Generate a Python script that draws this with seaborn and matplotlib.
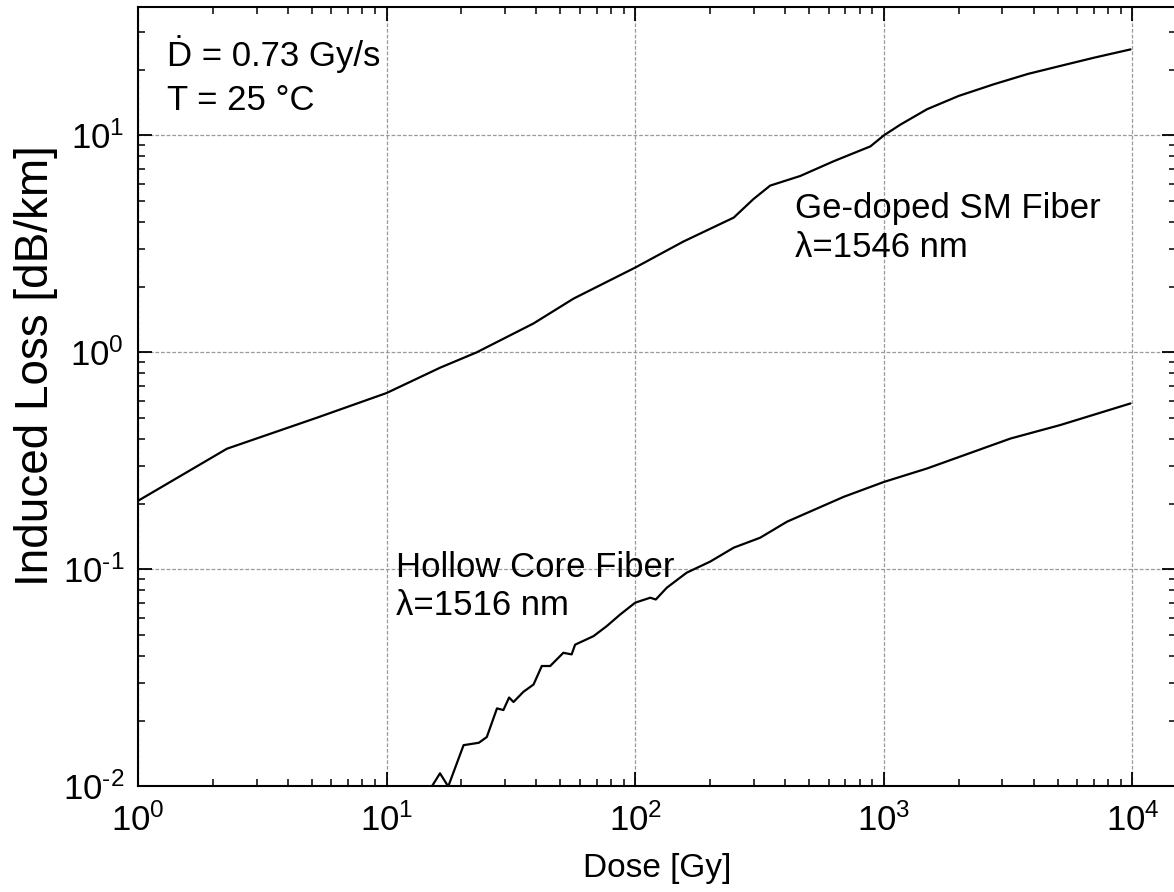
import numpy as np
import pandas as pd
import matplotlib
matplotlib.use("Agg")
import matplotlib.pyplot as plt
import matplotlib.ticker as mticker
import seaborn as sns

# radiation induced loss vs dose
ge_dose = [1, 2.28, 5.24, 10, 16.4, 23, 39, 56.5, 100, 156, 249, 299, 349,
           461, 628, 883, 1000, 1164, 1492, 2000, 2768, 3800, 5130, 7000, 9820]
ge_loss = [0.207, 0.36, 0.50, 0.65, 0.85, 1.0, 1.36, 1.77, 2.46, 3.24, 4.18,
           5.09, 5.87, 6.5, 7.6, 8.9, 10, 11.2, 13.2, 15.2, 17.2, 19.2, 20.9,
           22.8, 24.9]

hc_dose = [15.2, 16.4, 17.7, 20.4, 23.5, 25.3, 27.8, 29.5, 31.1, 32.4, 35.5,
           39, 42.1, 45.5, 51.4, 55.5, 57.3, 68, 76.8, 87, 100, 115, 121, 134,
           161, 200, 249, 318, 408, 689, 1000, 1493, 3230, 5130, 9820]
hc_loss = [0.0100, 0.0115, 0.0100, 0.0155, 0.0159, 0.0169, 0.0229, 0.0225,
           0.0257, 0.0245, 0.0273, 0.0295, 0.0359, 0.0359, 0.0413, 0.0406,
           0.045, 0.0493, 0.0548, 0.062, 0.0703, 0.0741, 0.0727, 0.0824,
           0.0966, 0.1086, 0.126, 0.14, 0.166, 0.216, 0.253, 0.292, 0.401,
           0.463, 0.582]

df = pd.concat([
    pd.DataFrame({"dose": ge_dose, "loss": ge_loss, "fiber": "Ge-doped SM"}),
    pd.DataFrame({"dose": hc_dose, "loss": hc_loss, "fiber": "Hollow Core"}),
])

sns.set_theme(style="ticks")
plt.rcParams["font.family"] = ["Liberation Sans", "DejaVu Sans"]
plt.rcParams["mathtext.fontset"] = "custom"
plt.rcParams["mathtext.rm"] = "Liberation Sans"
plt.rcParams["axes.unicode_minus"] = False
for k in ["text.color", "axes.labelcolor", "xtick.color", "ytick.color"]:
    plt.rcParams[k] = "black"

fig = plt.figure(figsize=(11.74, 8.92), dpi=100)
ax = fig.add_axes([0.1175, 0.1183, 0.8842, 0.874])

sns.lineplot(data=df, x="dose", y="loss", units="fiber", estimator=None,
             color="black", lw=1.6, sort=False, ax=ax)

ax.set_xscale("log")
ax.set_yscale("log")
ax.set_xlim(1, 10 ** 4.175)
ax.set_ylim(0.01, 39.1)


def pow10(v, pos):
    e = int(round(np.log10(v)))
    s = str(e).replace("-", "\u2010")
    return "$\\mathregular{10^{%s}}$" % s


ax.xaxis.set_major_locator(mticker.LogLocator(base=10, numticks=10))
ax.yaxis.set_major_locator(mticker.LogLocator(base=10, numticks=10))
ax.xaxis.set_major_formatter(mticker.FuncFormatter(pow10))
ax.yaxis.set_major_formatter(mticker.FuncFormatter(pow10))
ax.xaxis.set_minor_locator(mticker.LogLocator(base=10, subs=np.arange(2, 10), numticks=20))
ax.yaxis.set_minor_locator(mticker.LogLocator(base=10, subs=np.arange(2, 10), numticks=20))
ax.xaxis.set_minor_formatter(mticker.NullFormatter())
ax.yaxis.set_minor_formatter(mticker.NullFormatter())

ax.tick_params(which="both", direction="in", top=True, right=True, color="black")
ax.tick_params(which="major", length=10, width=1.3, labelsize=25)
ax.tick_params(axis="x", which="major", pad=12)
ax.tick_params(axis="y", which="major", pad=10)
ax.tick_params(which="minor", length=5, width=1.1)
for s in ax.spines.values():
    s.set_linewidth(1.5)
    s.set_color("black")

ax.grid(True, which="major", color="#9a9a9a", ls=(0, (3, 1.5)), lw=0.9)
ax.grid(False, which="minor")

ax.set_xlabel("Dose [Gy]", fontsize=24, va="center")
ax.set_ylabel("Induced Loss [dB/km]", fontsize=33, va="center")
ax.xaxis.set_label_coords(0.5, -0.1046)
ax.yaxis.set_label_coords(-0.0985, 0.540)

kw = dict(transform=ax.transAxes, fontsize=25, va="baseline", ha="left")
ax.text(0.028, 0.924, "Ḋ = 0.73 Gy/s", **kw)
ax.text(0.028, 0.868, "T = 25 °C", **kw)
ax.text(0.633, 0.7293, "Ge-doped SM Fiber", **kw)
ax.text(0.633, 0.679, "λ=1546 nm", **kw)
ax.text(0.2486, 0.2688, "Hollow Core Fiber", **kw)
ax.text(0.2486, 0.220, "λ=1516 nm", **kw)

fig.savefig("out.png", dpi=100)
